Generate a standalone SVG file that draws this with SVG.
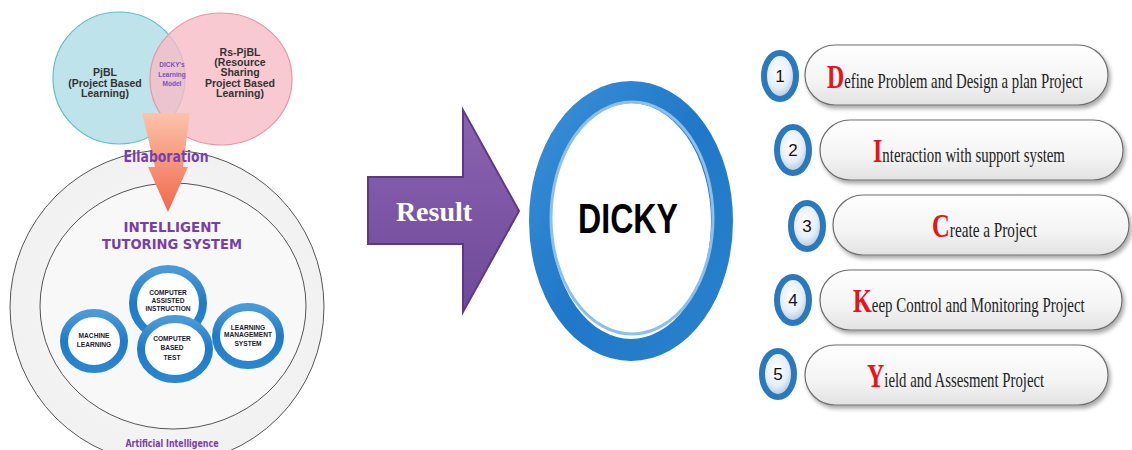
<svg xmlns="http://www.w3.org/2000/svg" width="1132" height="450" viewBox="0 0 1132 450">
<style>
.venn{font-family:"Liberation Sans",Arial,sans-serif;font-weight:bold;font-size:10.5px;fill:#333;text-anchor:middle}
.mini{font-family:"Liberation Sans",Arial,sans-serif;font-weight:bold;font-size:6.5px;fill:#7d4fb8;text-anchor:middle}
.purple{font-family:"DejaVu Sans","Liberation Sans",sans-serif;font-weight:bold;fill:#7a3fa6;text-anchor:middle}
.ring{fill:#fff;stroke:url(#ringG);stroke-width:8}
.its{font-family:"Liberation Sans",Arial,sans-serif;font-weight:bold;font-size:6.6px;fill:#1a1a2a;text-anchor:middle}
.pill{fill:url(#pillG);stroke:#6e6e6e;stroke-width:1.2;filter:url(#shadow)}
.num{fill:url(#numG);stroke:#2a78bd;stroke-width:6}
.numt{font-family:"Liberation Sans",Arial,sans-serif;font-size:17px;fill:#111;text-anchor:middle}
.step{font-family:"Liberation Serif","Times New Roman",serif;font-size:21px;fill:#222}
.cap{font-size:34px;font-weight:bold;fill:#e8141b}
</style>
<defs>
<linearGradient id="ringG" x1="0" y1="0" x2="0" y2="1">
<stop offset="0" stop-color="#4a9ad8"/><stop offset="0.5" stop-color="#1f7bc6"/><stop offset="1" stop-color="#2b86cf"/>
</linearGradient>
<linearGradient id="bigRing" x1="0" y1="0" x2="1" y2="1">
<stop offset="0" stop-color="#3a8fd6"/><stop offset="0.5" stop-color="#1f78c8"/><stop offset="1" stop-color="#2a82cc"/>
</linearGradient>
<linearGradient id="pillG" x1="0" y1="0" x2="0" y2="1">
<stop offset="0" stop-color="#ffffff"/><stop offset="0.6" stop-color="#f4f4f4"/><stop offset="1" stop-color="#e2e2e2"/>
</linearGradient>
<radialGradient id="numG" cx="0.45" cy="0.4" r="0.6">
<stop offset="0" stop-color="#ffffff"/><stop offset="0.6" stop-color="#e6eef5"/><stop offset="1" stop-color="#a9c4dc"/>
</radialGradient>
<linearGradient id="orangeG" x1="0" y1="0" x2="0" y2="1">
<stop offset="0" stop-color="#fbc3aa"/><stop offset="0.5" stop-color="#f7957a"/><stop offset="1" stop-color="#f2664a"/>
</linearGradient>
<linearGradient id="purpleG" x1="0" y1="0" x2="0" y2="1">
<stop offset="0" stop-color="#8a63b0"/><stop offset="1" stop-color="#6f4a9a"/>
</linearGradient>
<radialGradient id="aiG" cx="0.5" cy="0.5" r="0.5">
<stop offset="0" stop-color="#fcfcfc"/><stop offset="1" stop-color="#f1f1f1"/>
</radialGradient>
<filter id="shadow" x="-10%" y="-20%" width="125%" height="150%">
<feDropShadow dx="2" dy="3" stdDeviation="2" flood-color="#000" flood-opacity="0.35"/>
</filter>
</defs>
<rect width="1132" height="450" fill="#ffffff"/>

<g id="ai">
<circle cx="167" cy="307" r="157" fill="url(#aiG)" stroke="#555" stroke-width="1"/>
<text class="purple" x="172" y="447" font-size="10" textLength="93" lengthAdjust="spacingAndGlyphs">Artificial Intelligence</text>
</g>
<g id="its">
<ellipse cx="173" cy="306" rx="133" ry="123" fill="#f8f8f8" stroke="#555" stroke-width="1"/>
<text class="purple" x="172" y="232" font-size="14" textLength="97" lengthAdjust="spacingAndGlyphs">INTELLIGENT</text>
<text class="purple" x="172" y="249" font-size="14" textLength="140" lengthAdjust="spacingAndGlyphs">TUTORING SYSTEM</text>
</g>
<g id="ml">
<ellipse class="ring" cx="94" cy="341" rx="30" ry="28"/>
<text class="its" x="94" y="338">MACHINE</text>
<text class="its" x="94" y="347">LEARNING</text>
</g>
<g id="cai">
<ellipse class="ring" cx="168" cy="303" rx="35" ry="34"/>
<text class="its" x="168" y="295">COMPUTER</text>
<text class="its" x="168" y="303">ASSISTED</text>
<text class="its" x="168" y="311">INSTRUCTION</text>
</g>
<g id="cbt">
<ellipse class="ring" cx="175" cy="349" rx="34" ry="30"/>
<text class="its" x="172" y="341">COMPUTER</text>
<text class="its" x="172" y="350">BASED</text>
<text class="its" x="172" y="360">TEST</text>
</g>
<g id="lms">
<ellipse class="ring" cx="248" cy="336" rx="32" ry="29"/>
<text class="its" x="248" y="330">LEARNING</text>
<text class="its" x="248" y="337">MANAGEMENT</text>
<text class="its" x="248" y="346">SYSTEM</text>
</g>

<g id="pjbl">
<circle cx="119" cy="78" r="66" fill="#bfe3ea" stroke="#5fbfc6" stroke-width="1.2"/>
<text class="venn" x="105" y="76">PjBL</text>
<text class="venn" x="105" y="87">(Project Based</text>
<text class="venn" x="105" y="97">Learning)</text>
</g>
<g id="rspjbl">
<ellipse cx="221" cy="79" rx="71" ry="66" fill="#f7bcc5" fill-opacity="0.8" stroke="#e895a3" stroke-width="1.2"/>
<text class="venn" x="240" y="56">Rs-PjBL</text>
<text class="venn" x="240" y="66">(Resource</text>
<text class="venn" x="240" y="76">Sharing</text>
<text class="venn" x="240" y="87">Project Based</text>
<text class="venn" x="240" y="97">Learning)</text>
</g>
<g id="dickys-model">
<text class="mini" x="172" y="67">DICKY's</text>
<text class="mini" x="172" y="77">Learning</text>
<text class="mini" x="172" y="86">Model</text>
</g>

<g id="connectors">
<path d="M142,113 L190,113 L183,167 L188,167 L168,212 L148,167 L155,167 Z" fill="url(#orangeG)"/>
<path d="M368,177 L463,177 L463,110 L519,211 L463,312 L463,244 L368,244 Z" fill="url(#purpleG)" stroke="#5b3a82" stroke-width="2"/>
<text x="434" y="221" font-family="'Liberation Serif','Times New Roman',serif" font-weight="bold" font-size="28" fill="#ffffff" text-anchor="middle">Result</text>
</g>
<g id="elaboration">
<text class="purple" x="166" y="162" font-size="15" fill="#8a4fc4" textLength="85" lengthAdjust="spacingAndGlyphs">Ellaboration</text>
</g>

<g id="dicky">
<ellipse cx="631" cy="221" rx="91" ry="129" fill="#fff" stroke="url(#bigRing)" stroke-width="22"/>
<ellipse cx="632" cy="218" rx="81" ry="116" fill="none" stroke="#8cc0ea" stroke-width="3"/>
<text x="628" y="233" font-family="'Liberation Sans',Arial,sans-serif" font-weight="bold" font-size="43" fill="#000" text-anchor="middle" textLength="100" lengthAdjust="spacingAndGlyphs">DICKY</text>
</g>

<g id="step1">
<rect class="pill" x="805" y="45" width="303" height="60" rx="30"/>
<ellipse class="num" cx="780" cy="76" rx="16" ry="23"/>
<text class="numt" x="780" y="82">1</text>
<text class="step" transform="translate(827,88) scale(0.703,1)"><tspan class="cap">D</tspan>efine Problem and Design a plan Project</text>
</g>
<g id="step2">
<rect class="pill" x="820" y="120" width="303" height="60" rx="30"/>
<ellipse class="num" cx="793" cy="150" rx="16" ry="23"/>
<text class="numt" x="793" y="156">2</text>
<text class="step" transform="translate(873,162) scale(0.707,1)"><tspan class="cap">I</tspan>nteraction with support system</text>
</g>
<g id="step3">
<rect class="pill" x="833" y="195" width="296" height="60" rx="30"/>
<ellipse class="num" cx="807" cy="226" rx="16" ry="23"/>
<text class="numt" x="807" y="232">3</text>
<text class="step" transform="translate(932,237) scale(0.726,1)"><tspan class="cap">C</tspan>reate a Project</text>
</g>
<g id="step4">
<rect class="pill" x="820" y="270" width="302" height="60" rx="30"/>
<ellipse class="num" cx="793" cy="300" rx="16" ry="23"/>
<text class="numt" x="793" y="306">4</text>
<text class="step" transform="translate(853,312) scale(0.711,1)"><tspan class="cap">K</tspan>eep Control and Monitoring Project</text>
</g>
<g id="step5">
<rect class="pill" x="805" y="345" width="303" height="60" rx="30"/>
<ellipse class="num" cx="778" cy="374" rx="16" ry="23"/>
<text class="numt" x="778" y="380">5</text>
<text class="step" transform="translate(867,387) scale(0.705,1)"><tspan class="cap">Y</tspan>ield and Assesment Project</text>
</g>
</svg>
